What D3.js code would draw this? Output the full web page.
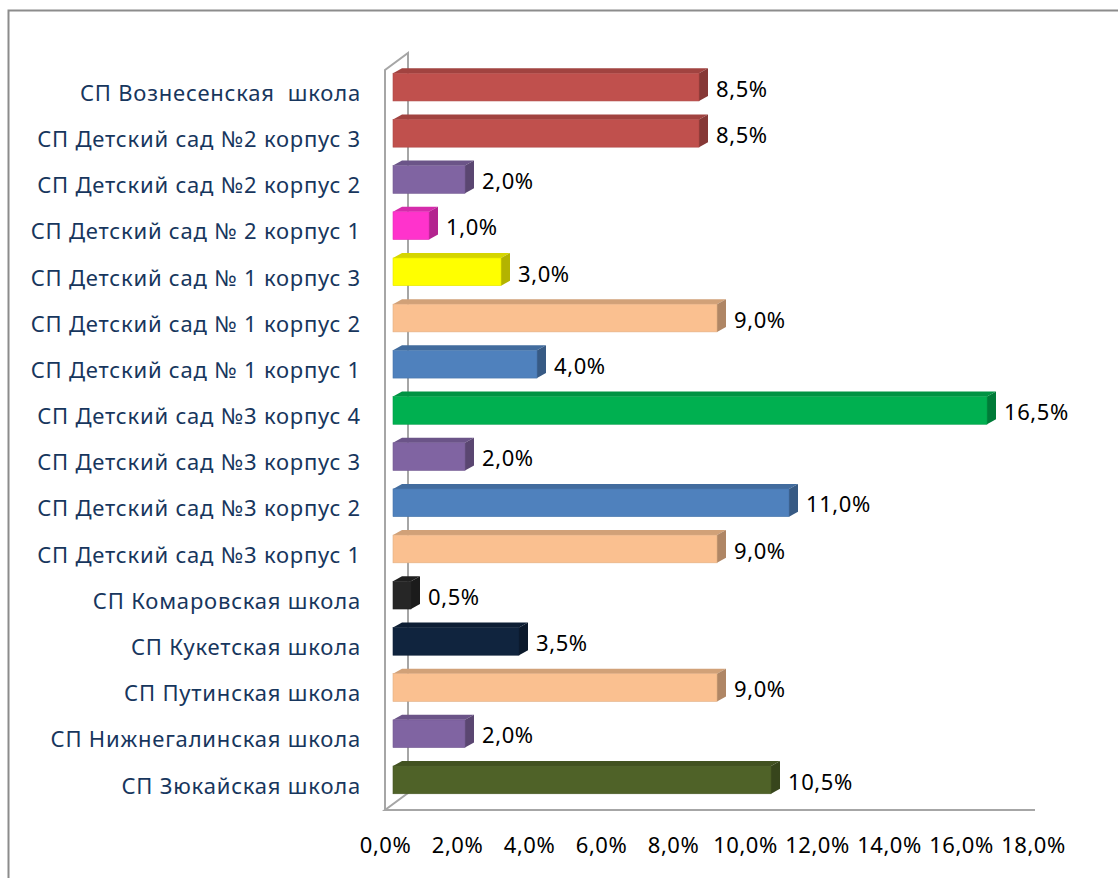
<!DOCTYPE html>
<html lang="ru">
<head>
<meta charset="UTF-8">
<title>chart</title>
<script src="https://cdn.jsdelivr.net/npm/d3@7"></script>
<style>
    body { margin: 0; background: #fff; }
    text { font-family: "Noto Sans", sans-serif; }
    .cat { fill: #17365D; font-size: 22px; letter-spacing: 0.8px; white-space: pre; }
    .val { fill: #000; font-size: 22px; letter-spacing: 0.6px; }
    .tick text { fill: #000; font-size: 22px; letter-spacing: 0.5px; }
</style>
</head>
<body>
<div id="chart"></div>
<script>
    var categories = [
        "СП Вознесенская  школа",
        "СП Детский сад №2 корпус 3",
        "СП Детский сад №2 корпус 2",
        "СП Детский сад № 2 корпус 1",
        "СП Детский сад № 1 корпус 3",
        "СП Детский сад № 1 корпус 2",
        "СП Детский сад № 1 корпус 1",
        "СП Детский сад №3 корпус 4",
        "СП Детский сад №3 корпус 3",
        "СП Детский сад №3 корпус 2",
        "СП Детский сад №3 корпус 1",
        "СП Комаровская школа",
        "СП Кукетская школа",
        "СП Путинская школа",
        "СП Нижнегалинская школа",
        "СП Зюкайская школа"
    ];
    var values = [8.5, 8.5, 2.0, 1.0, 3.0, 9.0, 4.0, 16.5, 2.0, 11.0, 9.0, 0.5, 3.5, 9.0, 2.0, 10.5];
    var colors = ["#C0504D", "#C0504D", "#8064A2", "#FF33CC", "#FFFF00", "#FAC090", "#4F81BD", "#00B050",
                  "#8064A2", "#4F81BD", "#FAC090", "#262626", "#10243E", "#FAC090", "#8064A2", "#4F6228"];
    var ticks = [0, 2, 4, 6, 8, 10, 12, 14, 16, 18];

    var width = 1118, height = 878;
    var dx = 9, dy = -5;          // bar depth
    var wx = 23, wy = -17;        // wall depth

    var svg = d3.select("#chart").append("svg")
        .attr("width", width)
        .attr("height", height);

    // outer frame
    svg.append("path")
        .attr("d", "M8.5," + height + "V10.5H" + width)
        .attr("fill", "none")
        .attr("stroke", "#8c8c8c")
        .attr("stroke-width", 2);

    var x = d3.scaleLinear().domain([0, 18]).range([393, 1041]);
    var y = d3.scaleBand().domain(categories).range([64, 803]).paddingInner(0.4).paddingOuter(0.2);

    // walls
    var x0 = 385, yTop = 70, yBot = 810;
    var wall = svg.append("g")
        .attr("fill", "none")
        .attr("stroke", "#a6a6a6")
        .attr("stroke-width", 2);
    wall.append("path").attr("d",
        "M" + x0 + "," + yBot + "V" + yTop + "L" + (x0 + wx) + "," + (yTop + wy) +
        "V" + (yBot + wy) + "L" + x0 + "," + yBot + "H1035");

    var data = categories.map(function(c, i) { return {name: c, value: values[i], color: colors[i]}; });

    var bars = svg.append("g").selectAll("g")
        .data(data)
        .enter().append("g");

    // top face
    bars.append("path")
        .attr("fill", d => d3.color(d.color).darker(0.5))
        .attr("d", function(d) {
            var l = x(0), r = x(d.value), t = y(d.name);
            return "M" + l + "," + t + "L" + (l + dx) + "," + (t + dy) + "H" + (r + dx) + "L" + r + "," + t + "Z";
        });
    // side face
    bars.append("path")
        .attr("fill", d => d3.color(d.color).darker(1))
        .attr("d", function(d) {
            var r = x(d.value), t = y(d.name), b = t + y.bandwidth();
            return "M" + r + "," + t + "L" + (r + dx) + "," + (t + dy) + "V" + (b + dy) + "L" + r + "," + b + "Z";
        });
    // front face
    bars.append("rect")
        .attr("x", x(0))
        .attr("y", d => y(d.name))
        .attr("width", d => x(d.value) - x(0))
        .attr("height", y.bandwidth())
        .attr("fill", d => d.color)
        .attr("stroke", d => d3.color(d.color).darker(0.3))
        .attr("stroke-width", 0.6);

    // value labels
    bars.append("text")
        .attr("class", "val")
        .attr("x", d => x(d.value) + dx + 8)
        .attr("y", d => y(d.name) + y.bandwidth() / 2 + 2)
        .attr("dy", "0.35em")
        .text(d => d.value.toFixed(1).replace(".", ",") + "%");

    // category labels
    svg.append("g").selectAll("text")
        .data(categories)
        .enter().append("text")
        .attr("class", "cat")
        .attr("x", 361)
        .attr("y", d => y(d) + y.bandwidth() / 2 + 6)
        .attr("dy", "0.35em")
        .attr("text-anchor", "end")
        .text(d => d);

    // x axis labels
    var axis = svg.append("g")
        .attr("transform", "translate(-8,834)")
        .call(d3.axisBottom(x).tickValues(ticks).tickSize(0)
            .tickFormat(d => d.toFixed(1).replace(".", ",") + "%"));
    axis.select(".domain").remove();
</script>
</body>
</html>
